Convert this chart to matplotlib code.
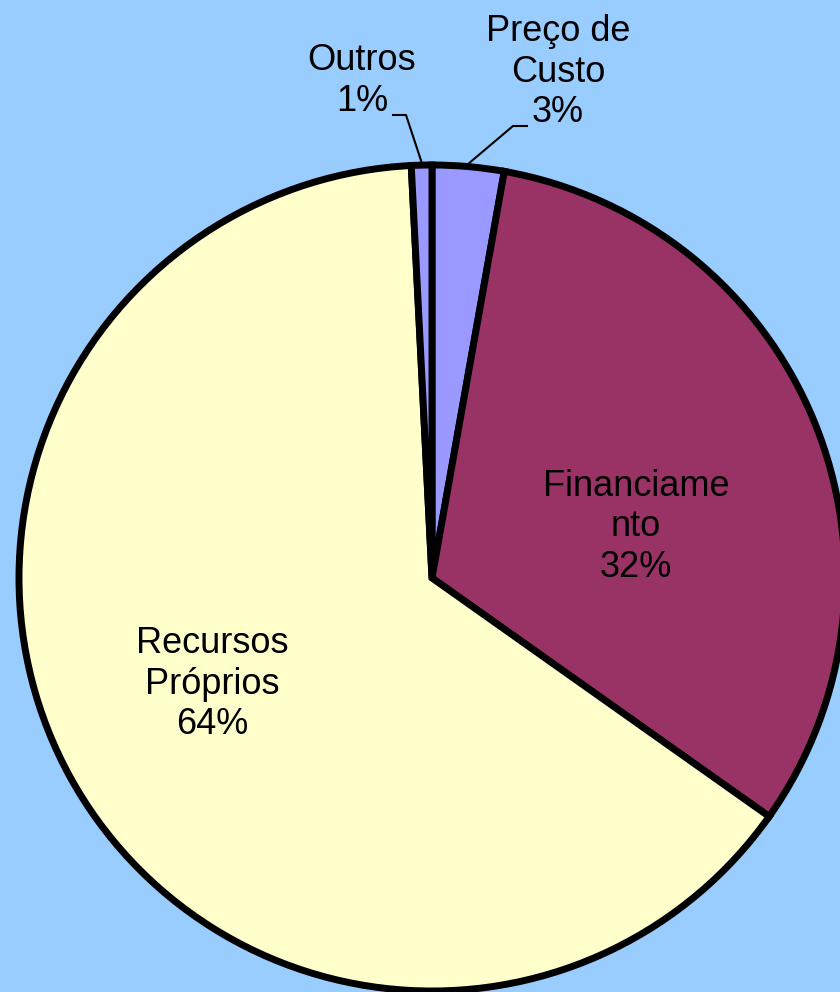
import numpy as np
from matplotlib import pyplot as plt

# slices, clockwise from the top
labels = ["Preço de\nCusto", "Financiame\nnto", "Recursos\nPróprios", "Outros"]
values = [2.8, 32.0, 64.4, 0.8]
colors = ["#9999FF", "#993366", "#FFFFCC", "#9999FF"]

bg = "#99CCFF"
W, H = 840, 992

fig = plt.figure(figsize=(W / 100, H / 100), dpi=100, facecolor=bg)
ax = fig.add_axes([0, 0, 1, 1])
ax.set_facecolor(bg)

cx, cy, r = 432, H - 578, 413
wedges, _ = ax.pie(values, colors=colors, startangle=90, counterclock=False,
                   center=(cx, cy), radius=r, frame=True,
                   wedgeprops=dict(edgecolor="black", linewidth=5))
ax.set_xlim(0, W)
ax.set_ylim(0, H)
ax.set_aspect("equal")
ax.axis("off")

pct = [round(v / sum(values) * 100) for v in values]
font = dict(family=["Liberation Sans", "DejaVu Sans"], fontsize=26,
            ha="center", va="center", linespacing=1.2)

# label placement (pixels, y from top) and leader line elbows
pos = {0: (558, 72), 1: (636, 527), 2: (212, 684), 3: (362, 81)}
leaders = {0: [(527, 126), (513, 126)], 3: [(393, 115), (406, 115)]}

for i, w in enumerate(wedges):
    x, y = pos[i]
    ax.text(x, H - y, f"{labels[i]}\n{pct[i]}%", **font)
    if i in leaders:
        mid = np.deg2rad((w.theta1 + w.theta2) / 2)
        ex = cx + (r + 3) * np.cos(mid)
        ey = cy + (r + 3) * np.sin(mid)
        xs = [p[0] for p in leaders[i]] + [ex]
        ys = [H - p[1] for p in leaders[i]] + [ey]
        ax.plot(xs, ys, color="black", linewidth=1.5)

fig.savefig("out.png", dpi=100, facecolor=bg)
